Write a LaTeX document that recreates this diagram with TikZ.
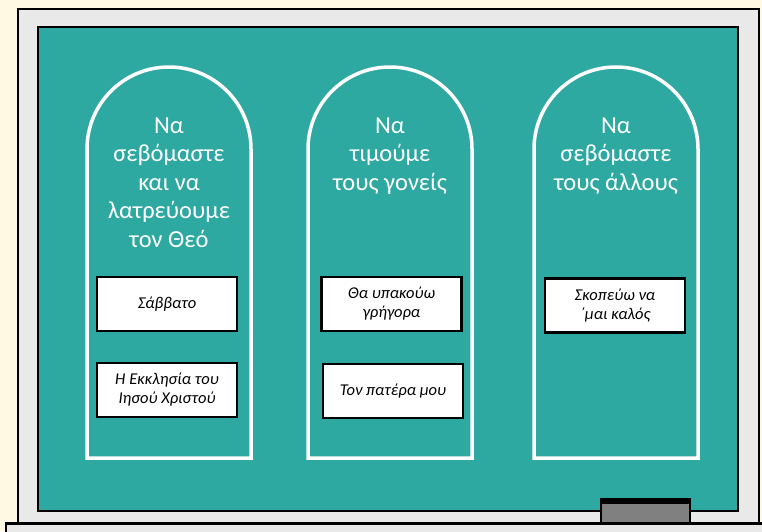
\documentclass[tikz,border=0pt]{standalone}
\usepackage{fontspec}
\setmainfont{Carlito}
\definecolor{cream}{HTML}{FFF8E3}
\definecolor{framegrey}{HTML}{E8E9E8}
\definecolor{boardteal}{HTML}{2EA9A1}
\definecolor{erasergrey}{HTML}{808080}
\tikzset{
  archline/.style={draw=white, line width=3.5pt},
  titletext/.style={text=white, align=center, anchor=north, inner sep=0pt,
    font=\fontsize{24.5}{28.5}\selectfont},
  cardbox/.style={draw=black, line width=2.5pt, fill=white, minimum width=140pt,
    minimum height=54pt, align=center, inner sep=2pt,
    font=\fontsize{16.5}{19}\selectfont\itshape},
}
\begin{document}
\begin{tikzpicture}[x=1pt,y=-1pt]
\useasboundingbox (0,0) rectangle (762,531);
\fill[cream] (0,0) rectangle (762,531);
% frame
\draw[fill=framegrey, line width=2.5pt] (18,9) rectangle (759,545);
\draw[fill=boardteal, line width=1.5pt] (38,27) rectangle (738,511);
% arches
\draw[archline] (87,458) -- (87,149) arc[start angle=180, end angle=360, radius=82] -- (251,458) -- cycle;
\draw[archline] (308,458) -- (308,149) arc[start angle=180, end angle=360, radius=82] -- (472,458) -- cycle;
\draw[archline] (534,458) -- (534,149) arc[start angle=180, end angle=360, radius=82] -- (698,458) -- cycle;
% titles
\node[titletext] (t1) at (169,117.5) {Να\\σεβόμαστε\\και να\\λατρεύουμε\\τον Θεό};
\node[titletext] (t2) at (390,117.5) {Να\\τιμούμε\\τους γονείς};
\node[titletext] (t3) at (616,117.5) {Να\\σεβόμαστε\\τους άλλους};
% cards
\node[cardbox] (c1) at (167,304) {Σάββατο};
\node[cardbox] (c2) at (167,390) {Η Εκκλησία του\\Ιησού Χριστού};
\node[cardbox] (c3) at (391.5,304) {Θα υπακούω\\γρήγορα};
\node[cardbox] (c4) at (393,391) {Τον πατέρα μου};
\node[cardbox] (c5) at (615,305.5) {Σκοπεύω να\\΄μαι καλός};
% ledge
\draw[fill=framegrey, line width=2.5pt] (6,523.5) rectangle (775,545);
% eraser
\draw[fill=erasergrey, line width=1.5pt] (601,501) rectangle (690,523);
\fill[black] (600,498) rectangle (691,503.5);
\end{tikzpicture}
\end{document}
